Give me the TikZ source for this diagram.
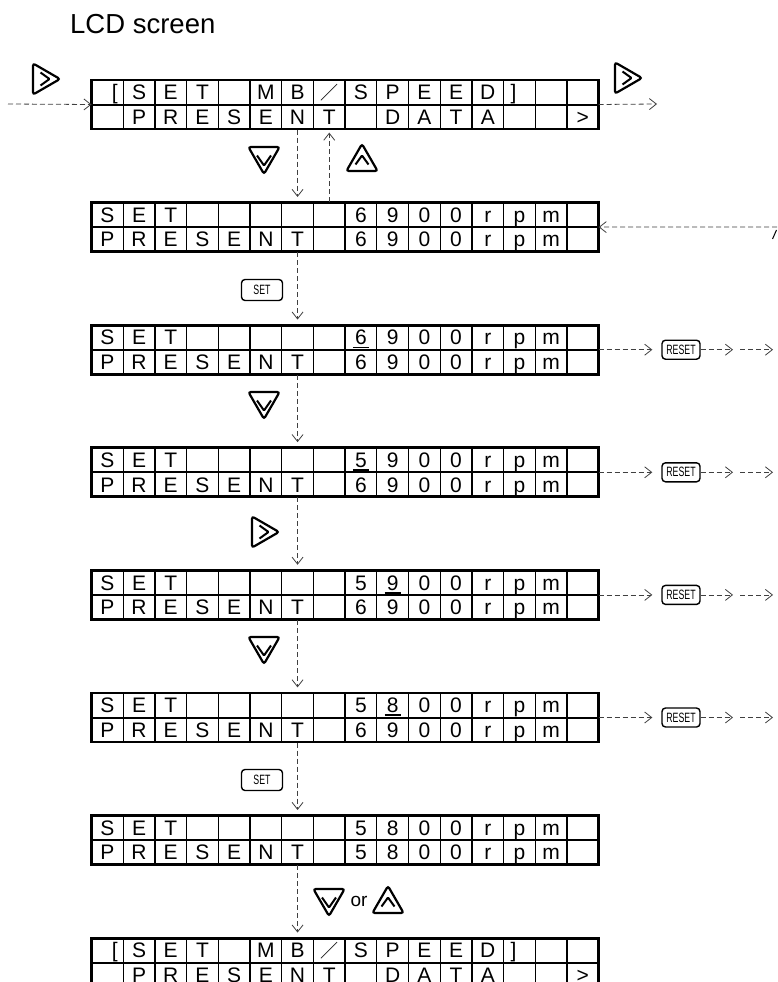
\documentclass[tikz,border=0pt]{standalone}
\usepackage{fontspec}
\setmainfont{Liberation Sans}
\newfontfamily\cjkfont{Noto Sans CJK JP}
\usepackage{tikz}
\usetikzlibrary{arrows.meta, shapes.geometric}

\newcommand{\lbr}{\makebox[0pt][l]{\hspace{4.5pt}[}}
\newcommand{\rbr}{\makebox[0pt][r]{]\hspace{3pt}}}
\newcommand{\lcdslash}{{\cjkfont\fontsize{18}{18}\selectfont ／}}
\newcommand{\keytext}[1]{\scalebox{0.65}[1]{#1}}

\newcommand{\lcdpanel}[5]{%
  \foreach \ch [count=\i from 0] in {#3}
    \node[lcdcell] (#1-a-\i) at (107.35+31.7*\i, #2+12.25) {\ch};
  \foreach \ch [count=\i from 0] in {#4}
    \node[lcdcell] (#1-b-\i) at (107.35+31.7*\i, #2+36.75) {\ch};
  \node[panel] (#1) at (345.1, #2+24.5) {};
  \draw[midline] (#1.west) -- (#1.east);
  \ifnum#5>-1
    \draw[cursor] ([xshift=-8pt, yshift=2.8pt]#1-a-#5.south) -- ([xshift=8pt, yshift=2.8pt]#1-a-#5.south);
  \fi
}

\begin{document}
\begin{tikzpicture}[
  x=1pt, y=-1pt,
  lcdcell/.style={
    draw,
    line width=1.3pt,
    minimum width=31.7pt,
    minimum height=24.5pt,
    inner sep=0pt,
    text height=17pt,
    text depth=2pt,
    font=\fontsize{21}{21}\selectfont
  },
  panel/.style={
    draw,
    line width=2.8pt,
    minimum width=507.2pt,
    minimum height=49pt,
    inner sep=0pt,
    outer sep=0pt
  },
  midline/.style={line width=2pt},
  cursor/.style={line width=1.8pt},
  flow/.style={
    draw=black!75,
    line width=0.8pt,
    dash pattern=on 5pt off 3pt,
    -{Straight Barb[length=7pt,width=11pt]}
  },
  keybox/.style={
    draw,
    line width=1.4pt,
    rounded corners=3.5pt,
    inner sep=0pt,
    font=\fontsize{13.5}{13.5}\selectfont
  },
  setkey/.style={keybox, minimum width=41pt, minimum height=21pt},
  resetkey/.style={keybox, minimum width=38pt, minimum height=19pt},
  icon/.style={
    regular polygon,
    regular polygon sides=3,
    draw,
    line width=2.2pt,
    rounded corners=2.5pt,
    minimum size=36pt,
    inner sep=0pt,
    outer sep=0pt
  },
  downkey/.style={icon, shape border rotate=180,
    path picture={\draw[line width=2pt, rounded corners=0.8pt]
      ([shift={(-7,-5)}]path picture bounding box.center) -- ++(7,10) -- ++(7,-10);}},
  upkey/.style={icon,
    path picture={\draw[line width=2pt, rounded corners=0.8pt]
      ([shift={(-6.5,7)}]path picture bounding box.center) -- ++(6.5,-9) -- ++(6.5,9);}},
  rightkey/.style={icon, shape border rotate=-90,
    path picture={\draw[line width=2pt, rounded corners=0.8pt]
      ([shift={(-6,-6.5)}]path picture bounding box.center) -- ++(9,6.5) -- ++(-9,6.5);}}
]
  \path[fill=white, use as bounding box] (0,0) rectangle (777,982);

  \node[anchor=base west, inner sep=0pt, font=\fontsize{27.5}{27.5}\selectfont] (title) at (70,34) {LCD screen};

  \lcdpanel{g1}{80}{\lbr,S,E,T,{},M,B,\lcdslash,S,P,E,E,D,\rbr,{},{}}{{},P,R,E,S,E,N,T,{},D,A,T,A,{},{},>}{-1}
  \lcdpanel{g2}{202.6}{S,E,T,{},{},{},{},{},6,9,0,0,r,p,m,{}}{P,R,E,S,E,N,T,{},6,9,0,0,r,p,m,{}}{-1}
  \lcdpanel{g3}{325.2}{S,E,T,{},{},{},{},{},6,9,0,0,r,p,m,{}}{P,R,E,S,E,N,T,{},6,9,0,0,r,p,m,{}}{8}
  \lcdpanel{g4}{447.8}{S,E,T,{},{},{},{},{},5,9,0,0,r,p,m,{}}{P,R,E,S,E,N,T,{},6,9,0,0,r,p,m,{}}{8}
  \lcdpanel{g5}{570.4}{S,E,T,{},{},{},{},{},5,9,0,0,r,p,m,{}}{P,R,E,S,E,N,T,{},6,9,0,0,r,p,m,{}}{9}
  \lcdpanel{g6}{693}{S,E,T,{},{},{},{},{},5,8,0,0,r,p,m,{}}{P,R,E,S,E,N,T,{},6,9,0,0,r,p,m,{}}{9}
  \lcdpanel{g7}{815.6}{S,E,T,{},{},{},{},{},5,8,0,0,r,p,m,{}}{P,R,E,S,E,N,T,{},5,8,0,0,r,p,m,{}}{-1}
  \lcdpanel{g8}{938.2}{\lbr,S,E,T,{},M,B,\lcdslash,S,P,E,E,D,\rbr,{},{}}{{},P,R,E,S,E,N,T,{},D,A,T,A,{},{},>}{-1}

  \node[rightkey] (rt1) at (42,79) {};
  \node[rightkey] (rt2) at (624,78) {};
  \node[downkey] (dn1) at (264,156) {};
  \node[upkey] (up1) at (362,162) {};
  \node[setkey] (set1) at (262,290) {\keytext{SET}};
  \node[downkey] (dn2) at (264,401) {};
  \node[rightkey] (rt3) at (261,532) {};
  \node[downkey] (dn3) at (264,646) {};
  \node[setkey] (set2) at (262,780) {\keytext{SET}};
  \node[downkey] (dn4) at (329,898) {};
  \node[font=\fontsize{19}{19}\selectfont] (orword) at (359,901) {or};
  \node[upkey] (up2) at (388,904) {};

  \coordinate (inL) at (8,104);
  \coordinate (outR) at (657,104);
  \coordinate (inR) at (777,227);
  \draw[flow] (inL) -- (g1.west);
  \draw[flow] (g1.east) -- (outR);
  \draw[flow, shorten >=5pt] (g1-b-6.south) -- (g2-a-6.north);
  \draw[flow, shorten >=3pt] (g2-a-7.north) -- (g1-b-7.south);
  \draw[flow] (inR) -- (g2.east);
  \draw[line width=1pt] (772.5,239) -- (776.5,230);

  \draw[flow, shorten >=5pt] (g2-b-6.south) -- (g3-a-6.north);
  \draw[flow, shorten >=5pt] (g3-b-6.south) -- (g4-a-6.north);
  \draw[flow, shorten >=5pt] (g4-b-6.south) -- (g5-a-6.north);
  \draw[flow, shorten >=5pt] (g5-b-6.south) -- (g6-a-6.north);
  \draw[flow, shorten >=5pt] (g6-b-6.south) -- (g7-a-6.north);
  \draw[flow, shorten >=5pt] (g7-b-6.south) -- (g8-a-6.north);

  \foreach \g in {3,4,5,6} {
    \node[resetkey] (rst\g) at (681, 0 |- g\g.east) {\keytext{RESET}};
    \coordinate (rst\g a) at (733, 0 |- g\g.east);
    \coordinate (rst\g b) at (740, 0 |- g\g.east);
    \coordinate (rst\g c) at (773, 0 |- g\g.east);
    \draw[flow, shorten >=9pt] (g\g.east) -- (rst\g.west);
    \draw[flow] (rst\g.east) -- (rst\g a);
    \draw[flow] (rst\g b) -- (rst\g c);
  }
\end{tikzpicture}
\end{document}
